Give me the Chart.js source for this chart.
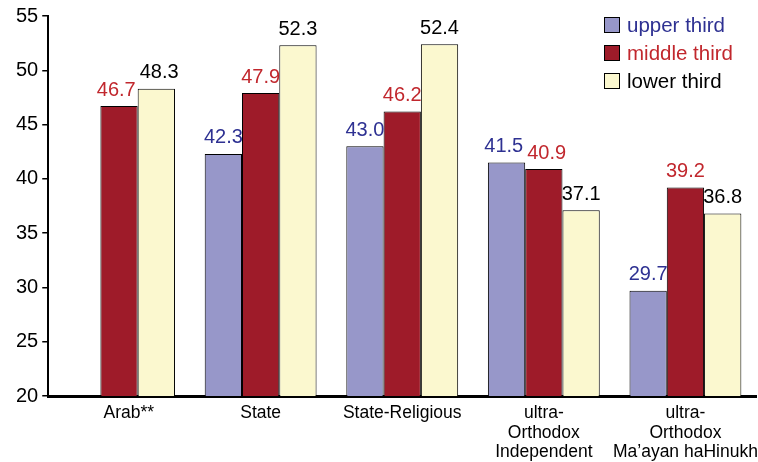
<!DOCTYPE html>
<html>
<head>
<meta charset="utf-8">
<script src="https://cdn.jsdelivr.net/npm/chart.js@4"></script>
<style>
  html, body { margin: 0; padding: 0; background: #fff; }
  #wrap { width: 758px; height: 462px; }
</style>
</head>
<body>
<div id="wrap"><canvas id="grafico" width="758" height="462"></canvas></div>
<script>
// categorias e valores
const categorias = ['    Arab**', 'State', 'State-Religious', ['ultra-', 'Orthodox', 'Independent'], ['ultra-', 'Orthodox', "Ma\u2019ayan haHinukh"]];
const tercoSuperior = [null, 42.3, 43.0, 41.5, 29.7];
const tercoMedio = [46.7, 47.9, 46.2, 40.9, 39.2];
const tercoInferior = [48.3, 52.3, 52.4, 37.1, 36.8];
const nomesSeries = ['upper third', 'middle third', 'lower third'];
const ticksY = [20, 25, 30, 35, 40, 45, 50, 55];

const coresBarra = ['#9797c9', '#9e1b29', '#fbf8cf'];
const coresTexto = ['#2e3192', '#c1272d', '#000000'];
const fonte = '"Liberation Sans", Arial, sans-serif';

// rotulos em cima das barras (afasta os vizinhos quando encostam)
const rotulosBarras = {
    id: 'rotulosBarras',
    afterDatasetsDraw(chart) {
        const ctx = chart.ctx;
        const tam = 20;
        ctx.save();
        ctx.font = tam + 'px ' + fonte;
        ctx.textAlign = 'center';
        ctx.textBaseline = 'bottom';
        chart.data.labels.forEach((_, j) => {
            const itens = [];
            chart.data.datasets.forEach((ds, i) => {
                const v = ds.data[j];
                if (v === null) return;
                const bar = chart.getDatasetMeta(i).data[j];
                const texto = v.toFixed(1);
                itens.push({ i, texto, x: bar.x, y: bar.y - 6, w: ctx.measureText(texto).width });
            });
            for (let k = 1; k < itens.length; k++) {
                const a = itens[k - 1], b = itens[k];
                if (Math.abs(a.y - b.y) < tam) {
                    const falta = (a.w + b.w) / 2 + 4 - (b.x - a.x);
                    if (falta > 0) { a.x -= falta / 2; b.x += falta / 2; }
                }
            }
            itens.forEach(it => {
                ctx.fillStyle = coresTexto[it.i];
                ctx.fillText(it.texto, it.x, it.y);
            });
        });
        ctx.restore();
    }
};

// legenda desenhada a mao no canto
const legendaCanto = {
    id: 'legendaCanto',
    afterDraw(chart) {
        const ctx = chart.ctx;
        ctx.save();
        ctx.font = '20.5px ' + fonte;
        ctx.textBaseline = 'middle';
        nomesSeries.forEach((nome, i) => {
            const y = 25 + i * 28;
            ctx.fillStyle = coresBarra[i];
            ctx.fillRect(604, y - 8, 16, 16);
            ctx.strokeStyle = '#000';
            ctx.lineWidth = 1;
            ctx.strokeRect(604.5, y - 7.5, 15, 15);
            ctx.fillStyle = coresTexto[i];
            ctx.fillText(nome, 627, y + 1);
        });
        ctx.restore();
    }
};

const dados = {
    labels: categorias,
    datasets: [tercoSuperior, tercoMedio, tercoInferior].map((serie, i) => ({
        label: nomesSeries[i],
        data: serie,
        backgroundColor: coresBarra[i],
        borderColor: '#000',
        borderWidth: 1,
        categoryPercentage: 0.79,
        barPercentage: 1
    }))
};

const config = {
    type: 'bar',
    data: dados,
    plugins: [rotulosBarras, legendaCanto],
    options: {
        responsive: false,
        animation: false,
        layout: { padding: { top: -1, right: 1, left: 12, bottom: 0 } },
        plugins: {
            legend: { display: false },
            tooltip: { enabled: false }
        },
        scales: {
            x: {
                grid: { display: false },
                border: { color: '#000', width: 3 },
                afterFit: (scale) => { scale.height = 66; },
                ticks: {
                    color: '#000',
                    font: { family: fonte, size: 17.5, lineHeight: 1.1 },
                    maxRotation: 0,
                    autoSkip: false,
                    padding: 0
                }
            },
            y: {
                min: 20,
                max: 55,
                afterBuildTicks: (scale) => { scale.ticks = ticksY.map(v => ({ value: v })); },
                grid: { drawOnChartArea: false, drawTicks: true, tickLength: 6, color: '#000', lineWidth: 1.5 },
                border: { color: '#000', width: 2 },
                ticks: {
                    color: '#000',
                    font: { family: fonte, size: 20 },
                    padding: 4
                }
            }
        }
    }
};

new Chart(document.getElementById('grafico'), config);
</script>
</body>
</html>
